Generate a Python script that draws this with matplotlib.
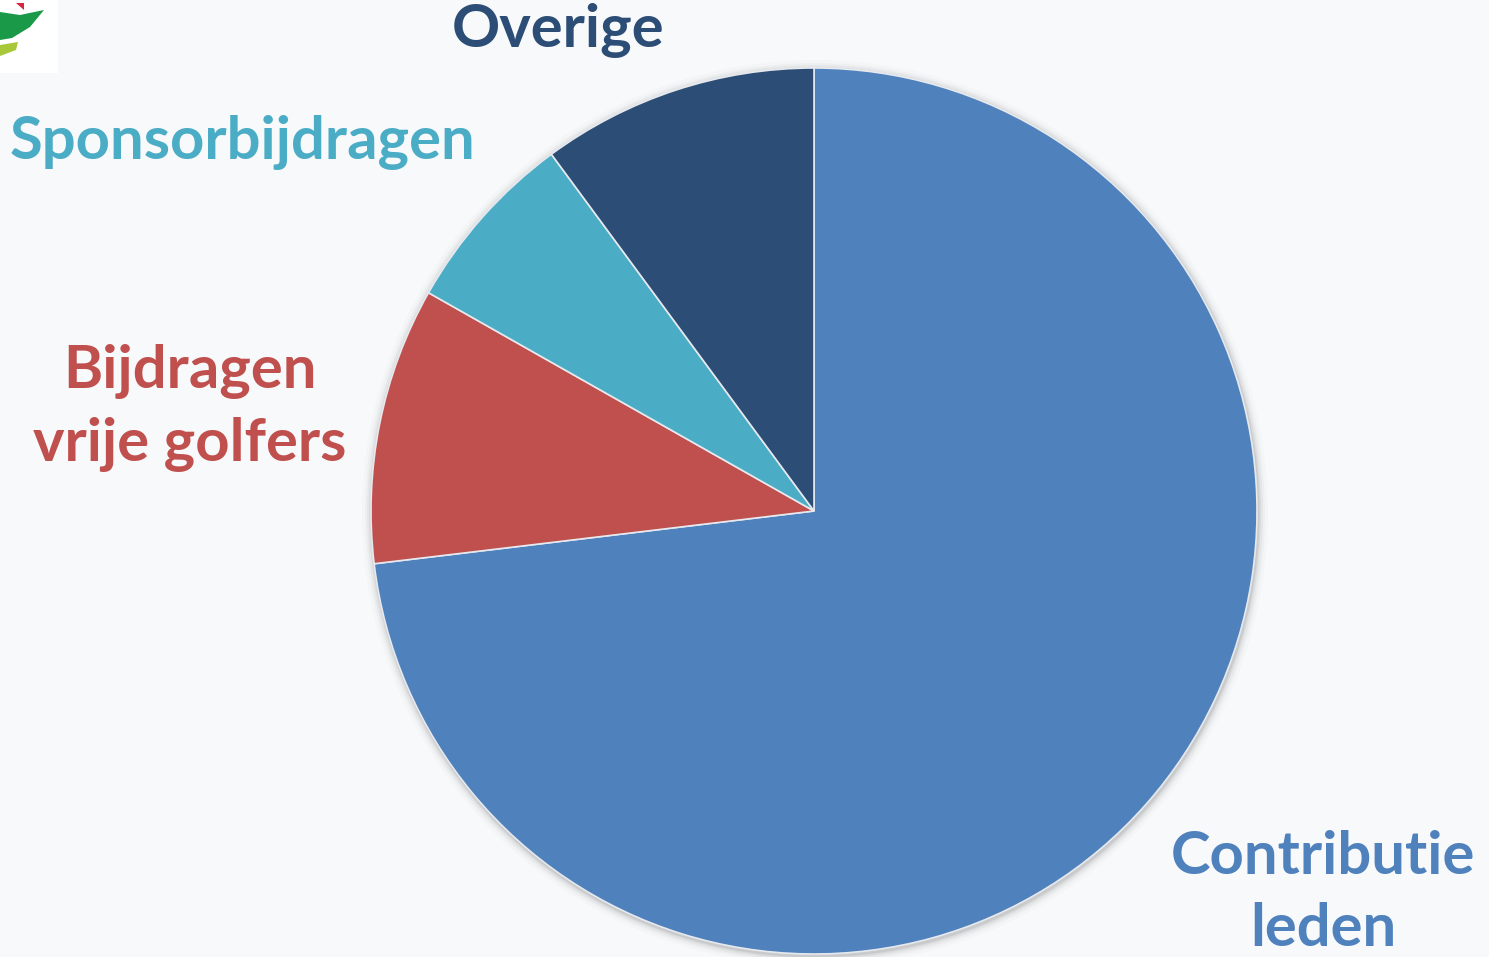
import matplotlib
matplotlib.use("Agg")
import matplotlib.pyplot as plt
from matplotlib.patches import Circle, Rectangle, Polygon

categories = ["Contributie\nleden", "Bijdragen\nvrije golfers", "Sponsorbijdragen", "Overige"]
values = [73.1, 10.1, 6.7, 10.1]
colors = ["#4F81BD", "#C0504D", "#4BACC6", "#2C4D75"]

W, H = 1489, 957
fig = plt.figure(figsize=(W / 100, H / 100), dpi=100)
fig.patch.set_facecolor("#F8F9FB")
ax = fig.add_axes([0, 0, 1, 1])

cx, cy, r = 814, H - 511, 443

# soft shadow
for k, a in [(10, 0.015), (7, 0.025), (5, 0.035), (3, 0.05), (1.5, 0.07)]:
    ax.add_patch(Circle((cx + 1, cy - 2), r + k, color="#000000", alpha=a, lw=0, zorder=0))

ax.pie(values, colors=colors, startangle=90, counterclock=False,
       center=(cx, cy), radius=r, frame=True,
       wedgeprops=dict(edgecolor="#E6E9EE", linewidth=1.2))
ax.set_xlim(0, W)
ax.set_ylim(0, H)
ax.set_aspect("equal")
ax.axis("off")

# logo fragment (top-left)
ax.add_patch(Rectangle((0, H - 73), 58, 73, color="white", lw=0, zorder=1))
ax.add_patch(Polygon([(0, H - 12), (20, H - 15), (44, H - 10), (30, H - 27), (12, H - 38), (0, H - 40)],
                     closed=True, color="#1A9A48", lw=0, zorder=2))
ax.add_patch(Polygon([(0, H - 45), (18, H - 42), (16, H - 50), (0, H - 56)],
                     closed=True, color="#A8C83A", lw=0, zorder=2))
ax.add_patch(Polygon([(16, H - 3), (24, H - 3), (24, H - 10)], closed=True, color="#D7263D", lw=0, zorder=3))

font = "Lato"
fs = 43
label_pos = [(1323, H - 893), (190, H - 408), (243, H - 142), (558, H - 31)]
for lab, col, (x, y) in zip(categories, colors, label_pos):
    ax.text(x, y, lab, color=col, fontsize=fs, fontweight="bold", family=font,
            ha="center", va="center", linespacing=1.42, zorder=5)

fig.savefig("out.png", dpi=100, facecolor=fig.get_facecolor())
